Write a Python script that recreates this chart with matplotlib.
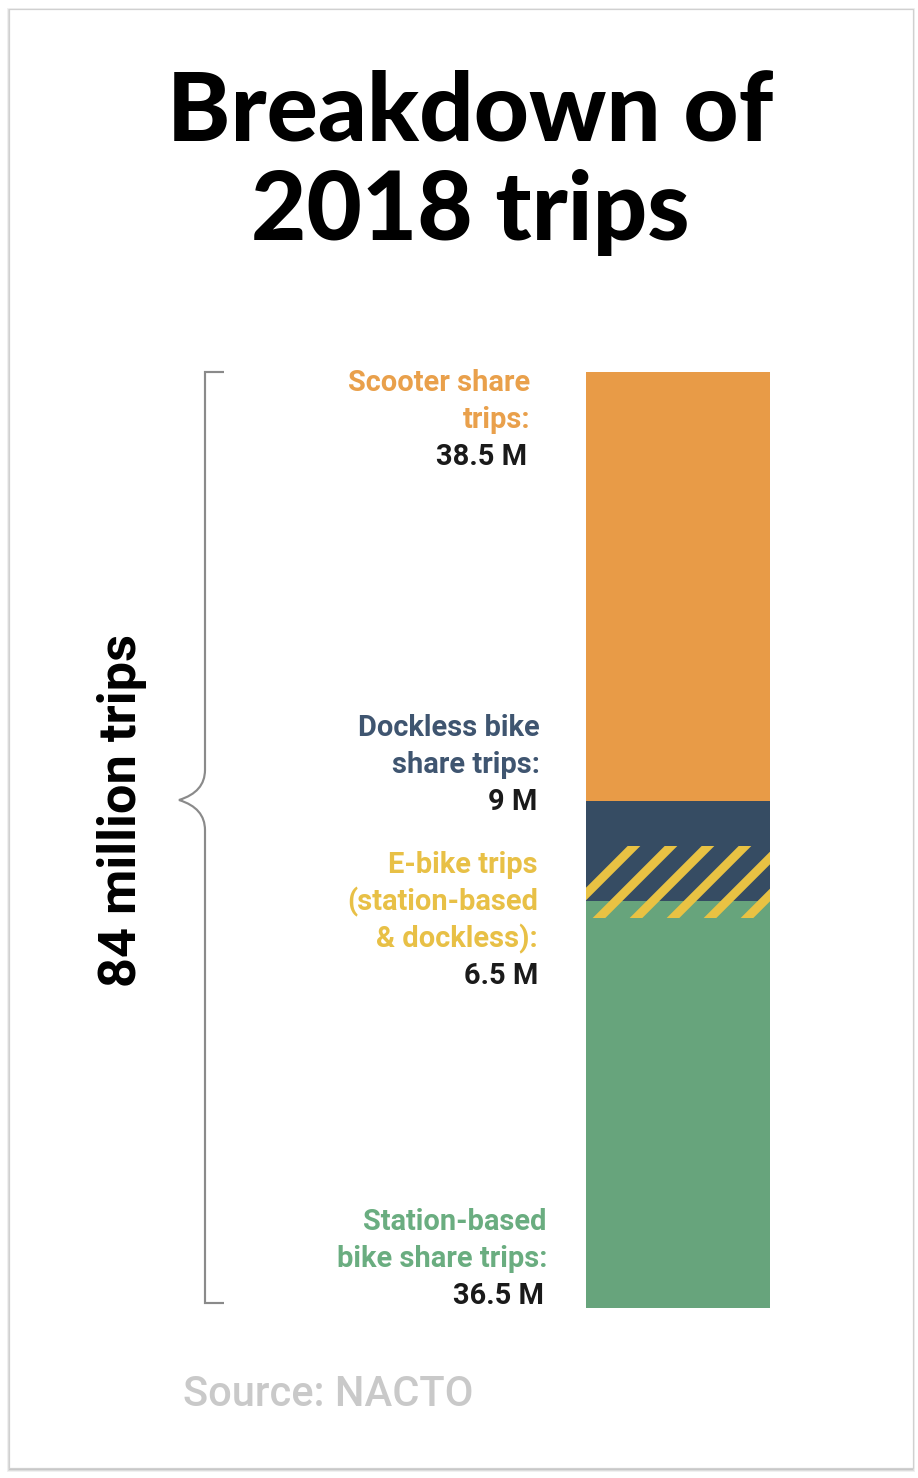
import numpy as np
import matplotlib
matplotlib.use("Agg")
import matplotlib.pyplot as plt
from matplotlib.patches import Rectangle, PathPatch
from matplotlib.path import Path

# 2018 trips, millions (stacked bottom to top)
categories = ["Station-based\nbike share trips:", "Dockless bike\nshare trips:", "Scooter share\ntrips:"]
trips = [36.5, 9, 38.5]
value_labels = ["36.5 M", "9 M", "38.5 M"]
# e-bikes overlap the station-based and dockless segments
ebike_label = "E-bike trips\n(station-based\n& dockless):"
ebike_trips = 6.5
ebike_start = 35.0
ebike_value = "6.5 M"
total_label = "84 million trips"

bar_colors = ["#67a47c", "#364c63", "#e89b47"]
text_colors = ["#6aad80", "#3f5570", "#e9a04b"]
ebike_color = "#e9c243"
ebike_text = "#e8c046"

W, H, DPI = 918, 1478, 222
lab_font = ["Roboto", "DejaVu Sans"]
lab_size = 9.4

fig = plt.figure(figsize=(W / DPI, H / DPI), dpi=DPI)
fig.patch.set_facecolor("white")


def pixel_axes():
    a = fig.add_axes([0, 0, 1, 1])
    a.set_xlim(0, W)
    a.set_ylim(H, 0)
    a.axis("off")
    a.patch.set_alpha(0)
    return a


# card background
back = pixel_axes()
for off, a in [(3, 0.12), (2, 0.18), (1, 0.25)]:
    back.add_patch(Rectangle((9 - off + 1, 9 - off + 2), 904 + 2 * off - 2, 1459 + 2 * off - 1,
                             facecolor="#888888", edgecolor="none", alpha=a, zorder=0))
back.add_patch(Rectangle((9, 9), 904, 1459, facecolor="white", edgecolor="#d0d0d0", lw=0.4, zorder=1))

# bar
ax = fig.add_axes([586 / W, (H - 1308) / H, 184 / W, 936 / H])
ax.set_facecolor("none")
bottoms = np.concatenate([[0], np.cumsum(trips)[:-1]])
ax.bar(0, trips, bottom=bottoms, width=1, color=bar_colors, linewidth=0)
ebike_bar = ax.bar(0, ebike_trips, bottom=ebike_start, width=1, color="none", linewidth=0)[0]
ax.set_xlim(-0.5, 0.5)
ax.set_ylim(0, sum(trips))
ax.axis("off")

# overlay for stripes, text and brace
over = pixel_axes()

over.text(470, 113, "Breakdown of", ha="center", va="center", fontsize=31,
          family=["Lato", "DejaVu Sans"], weight="black", color="black")
over.text(470, 213, "2018 trips", ha="center", va="center", fontsize=31,
          family=["Lato", "DejaVu Sans"], weight="black", color="black")

# diagonal stripes for e-bikes, clipped to the e-bike segment
for x0 in np.arange(380, 1000, 37):
    ln, = over.plot([x0, x0 + 320], [1100, 780], color=ebike_color, lw=2.9,
                    solid_capstyle="butt")
    ln.set_clip_path(ebike_bar)

# labels
step = 37
label_x = [547, 540, 530]
label_y = [1222, 728, 383]
for name, val, c, x, y in zip(categories, value_labels, text_colors, label_x, label_y):
    lines = name.split("\n")
    for i, t in enumerate(lines):
        over.text(x, y + i * step, t, ha="right", va="center", fontsize=lab_size,
                  family=lab_font, weight="bold", color=c)
    over.text(x - 3, y + len(lines) * step, val, ha="right", va="center", fontsize=lab_size,
              family=lab_font, weight="bold", color="#1a1a1a")

lines = ebike_label.split("\n")
for i, t in enumerate(lines):
    over.text(538, 865 + i * step, t, ha="right", va="center", fontsize=lab_size,
              family=lab_font, weight="bold", color=ebike_text)
over.text(538, 865 + len(lines) * step, ebike_value, ha="right", va="center", fontsize=lab_size,
          family=lab_font, weight="bold", color="#1a1a1a")

# curly brace
verts = [(224, 372), (205, 372), (205, 770), (205, 792), (179, 800),
         (205, 808), (205, 830), (205, 1303), (224, 1303)]
codes = [Path.MOVETO, Path.LINETO, Path.LINETO, Path.CURVE3, Path.CURVE3,
         Path.CURVE3, Path.CURVE3, Path.LINETO, Path.LINETO]
over.add_patch(PathPatch(Path(verts, codes), facecolor="none", edgecolor="#8a8a8a", lw=0.7))

over.text(122, 810, total_label, rotation=90, ha="center", va="center", fontsize=17,
          family=lab_font, weight="bold", color="black")

over.text(183, 1395, "Source: NACTO", ha="left", va="center", fontsize=13.5,
          family=lab_font, weight="medium", color="#c9c9c9")

fig.savefig("out.png", dpi=DPI, facecolor="white")
